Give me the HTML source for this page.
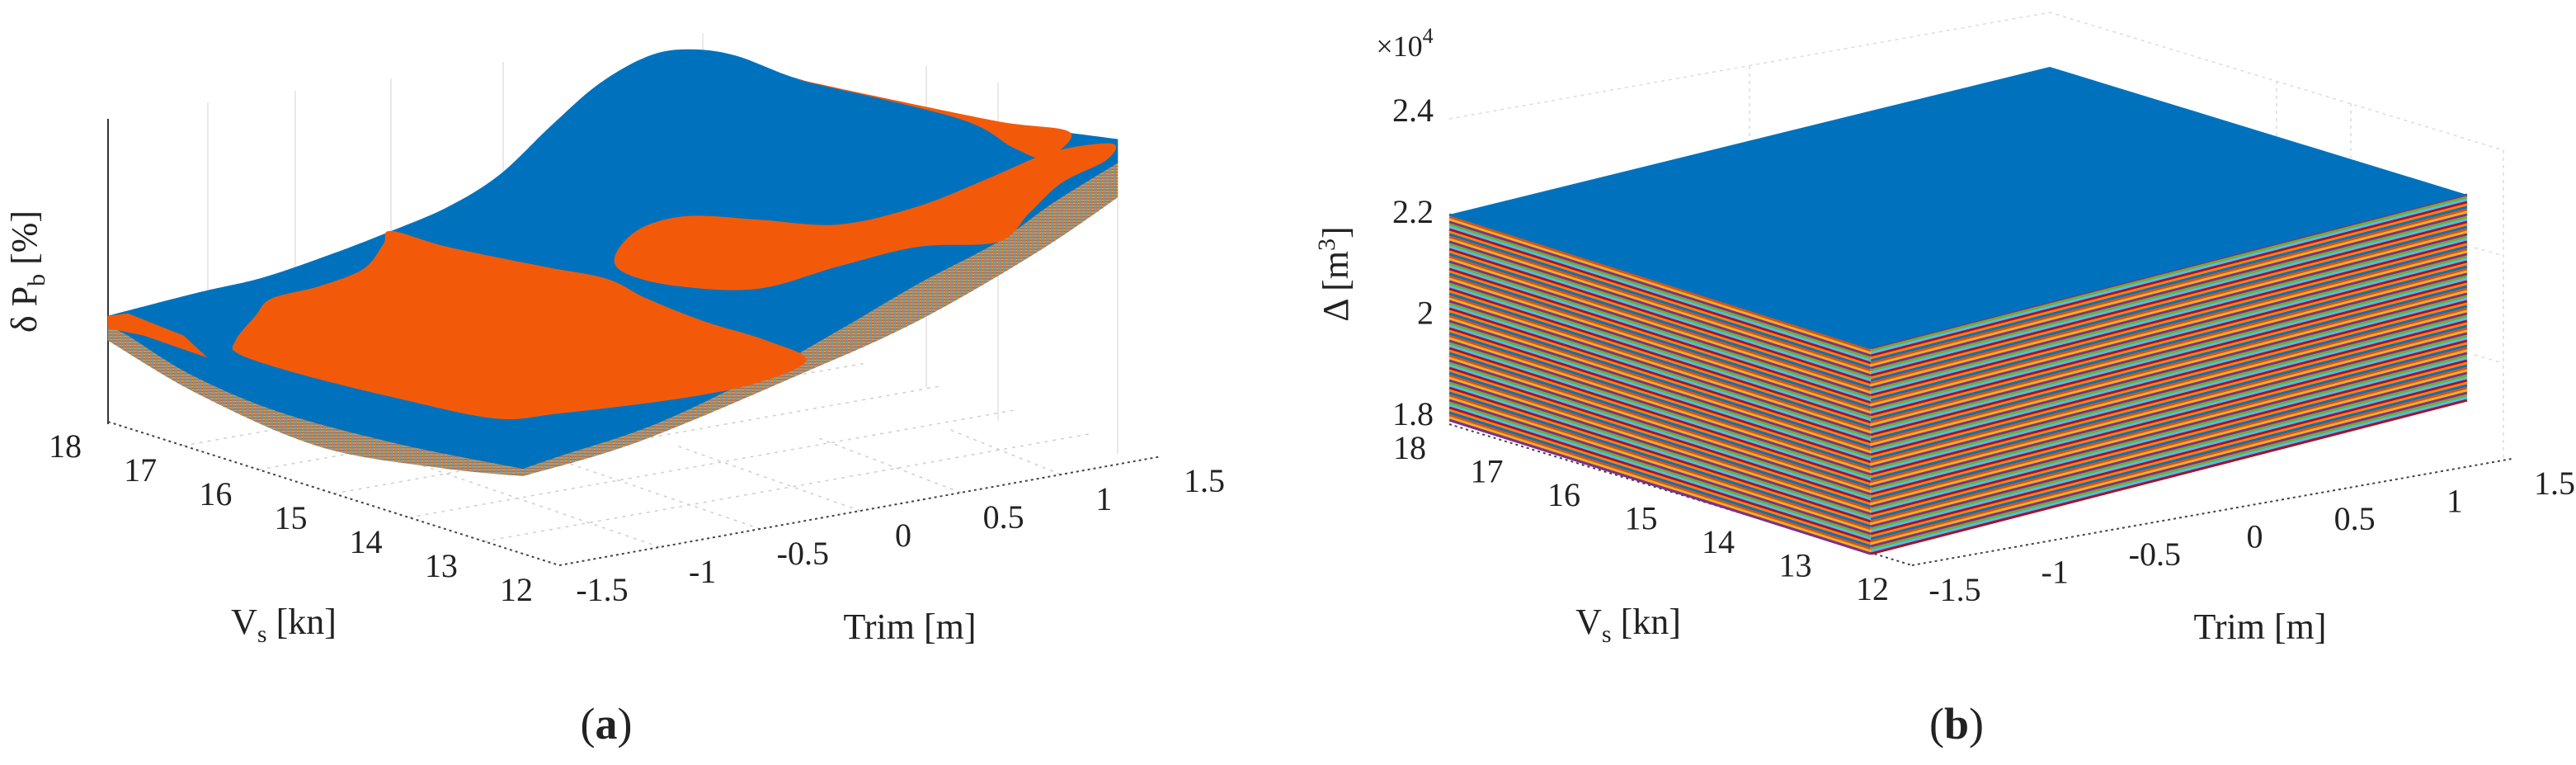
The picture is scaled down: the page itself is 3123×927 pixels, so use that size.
<!DOCTYPE html>
<html><head><meta charset="utf-8">
<style>
html,body{margin:0;padding:0;background:#fff;}
svg{display:block;}
text{font-family:"Liberation Serif",serif;fill:#222;}
</style></head>
<body>
<svg id="fig" width="3123" height="927" viewBox="0 0 3123 927">
<defs>
  <pattern id="mottle" width="6" height="6" patternUnits="userSpaceOnUse">
    <rect width="6" height="6" fill="#a9876f"/>
    <rect x="0" y="0" width="2" height="2" fill="#d95319"/>
    <rect x="3" y="3" width="2" height="2" fill="#4dbeee"/>
    <rect x="3" y="0" width="2" height="2" fill="#7e7e7e"/>
    <rect x="0" y="3" width="2" height="2" fill="#edb120"/>
  </pattern>
</defs>
<rect width="3123" height="927" fill="#fff"/>
<g id="panelA">
  <g stroke="#e2e2e2" stroke-width="1.5" fill="none">
    <line x1="252" y1="124" x2="252" y2="480"/><line x1="358" y1="110" x2="358" y2="430"/>
    <line x1="474" y1="95" x2="474" y2="380"/><line x1="610" y1="75" x2="610" y2="340"/>
    <line x1="852" y1="40" x2="852" y2="70"/><line x1="1123" y1="80" x2="1123" y2="470"/>
    <line x1="1210" y1="100" x2="1210" y2="510"/><line x1="1355" y1="168" x2="1355" y2="550"/>
  </g>
  <g stroke="#cfcfcf" stroke-width="1.5" stroke-dasharray="4 6" fill="none">
    <line x1="222" y1="540" x2="960" y2="410"/><line x1="314" y1="569" x2="1050" y2="440"/>
    <line x1="405" y1="598" x2="1140" y2="468"/><line x1="496" y1="627" x2="1230" y2="497"/>
    <line x1="587" y1="656" x2="1320" y2="526"/>
    <line x1="800" y1="663" x2="500" y2="560"/><line x1="922" y1="641" x2="650" y2="548"/>
    <line x1="1043" y1="619" x2="820" y2="540"/><line x1="1165" y1="597" x2="990" y2="530"/>
    <line x1="1286" y1="575" x2="1150" y2="520"/>
  </g>
  <line x1="131" y1="144" x2="131" y2="514" stroke="#333" stroke-width="2"/>
  <g id="axesA" stroke="#444" stroke-width="2" stroke-dasharray="3 4" fill="none"></g>
  <g id="surfA" transform="scale(0.968 0.598)"></g>
  <text x="44" y="329" font-size="44" text-anchor="middle" transform="rotate(-90 44 329)">δ P<tspan font-size="30" dy="10">b</tspan><tspan dy="-10"> [%]</tspan></text>
  <text x="344" y="768" font-size="44" text-anchor="middle">V<tspan font-size="30" dy="10">s</tspan><tspan dy="-10"> [kn]</tspan></text>
  <text x="1103" y="774" font-size="44" text-anchor="middle">Trim [m]</text>
  <text x="735" y="895" font-size="54" text-anchor="middle">(<tspan font-weight="bold">a</tspan>)</text>
</g>

<g id="panelB">
  <g stroke="#dcdcdc" stroke-width="1.5" stroke-dasharray="4 5" fill="none">
    <polyline points="1757,144 2485,15 3035,182 3035,556"/>
    <line x1="2121" y1="80" x2="2121" y2="300"/><line x1="2760" y1="98" x2="2760" y2="240"/>
    <line x1="2850" y1="125" x2="2850" y2="230"/>
    <line x1="3000" y1="300" x2="3035" y2="310"/><line x1="3000" y1="430" x2="3035" y2="440"/>
  </g>
  <g id="axesB" stroke="#444" stroke-width="2" stroke-dasharray="3 4" fill="none"></g>
  <g id="stripes"></g>
  <polygon fill="#0072bd" points="1757,260 2485,81 2991,236 2268,422"/>
  <g id="zTicksB"></g>
  <text x="1703" y="68" font-size="36" text-anchor="middle">×10<tspan font-size="26" dy="-16">4</tspan></text>
  <text x="1634" y="332" font-size="44" text-anchor="middle" transform="rotate(-90 1634 332)">Δ [m<tspan font-size="30" dy="-16">3</tspan><tspan dy="16">]</tspan></text>
  <text x="1974" y="768" font-size="44" text-anchor="middle">V<tspan font-size="30" dy="10">s</tspan><tspan dy="-10"> [kn]</tspan></text>
  <text x="2740" y="774" font-size="44" text-anchor="middle">Trim [m]</text>
  <text x="2372" y="895" font-size="54" text-anchor="middle">(<tspan font-weight="bold">b</tspan>)</text>
</g>
</svg>
<script>
const vsTicks = [18, 17, 16, 15, 14, 13, 12];
const trimTicks = [-1.5, -1, -0.5, 0, 0.5, 1, 1.5];
const zTicksB = [1.8, 2, 2.2, 2.4];
const zTickLabelsB = ["1.8", "2", "2.2", "2.4"];
const stripeColors = ["#0072bd", "#d95319", "#edb120", "#7e2f8e", "#77ac30", "#4dbeee", "#a2142f", "#ff7f0e"];

const NS = "http://www.w3.org/2000/svg";
function mk(tag, attrs, parent, txt){
  const e = document.createElementNS(NS, tag);
  for (const k in attrs) e.setAttribute(k, attrs[k]);
  if (txt !== undefined) e.textContent = txt;
  parent.appendChild(e);
  return e;
}
function lerp(a, b, t){ return [a[0] + (b[0]-a[0])*t, a[1] + (b[1]-a[1])*t]; }
function vsPos(v, A, B){ return lerp(A, B, (18 - v) / 6); }
function trimPos(v, B, C){ return lerp(B, C, (v + 1.5) / 3); }

function curve(pts){
  let d = "";
  for (let i = 0; i < pts.length - 1; i++){
    const p0 = pts[Math.max(0, i-1)], p1 = pts[i], p2 = pts[i+1], p3 = pts[Math.min(pts.length-1, i+2)];
    const c1 = [p1[0] + (p2[0]-p0[0])/6, p1[1] + (p2[1]-p0[1])/6];
    const c2 = [p2[0] - (p3[0]-p1[0])/6, p2[1] - (p3[1]-p1[1])/6];
    d += " C" + c1[0] + "," + c1[1] + " " + c2[0] + "," + c2[1] + " " + p2[0] + "," + p2[1];
  }
  return d;
}
function closedCurve(pts){
  const n = pts.length;
  let d = "M" + pts[0][0] + "," + pts[0][1];
  for (let i = 0; i < n; i++){
    const p0 = pts[(i-1+n)%n], p1 = pts[i], p2 = pts[(i+1)%n], p3 = pts[(i+2)%n];
    const c1 = [p1[0] + (p2[0]-p0[0])/6, p1[1] + (p2[1]-p0[1])/6];
    const c2 = [p2[0] - (p3[0]-p1[0])/6, p2[1] - (p3[1]-p1[1])/6];
    d += " C" + c1[0] + "," + c1[1] + " " + c2[0] + "," + c2[1] + " " + p2[0] + "," + p2[1];
  }
  return d + "Z";
}

const sA = document.getElementById("surfA");
const backEdge = [[135,640],[250,592],[330,562],[420,512],[490,468],[560,420],[625,355],[690,255],[750,170],[810,115],[860,100],[920,112],[1000,160],[1100,198],[1250,248],[1400,282]];
const frontLeft = [[655,950],[500,900],[350,835],[240,760],[160,680],[135,662]];
const frontRight = [[1400,330],[1320,410],[1250,490],[1150,575],[1050,670],[950,760],[820,860],[700,925],[655,950]];
const skirtPath = "M135,640 L135,690" + curve([[135,690],[250,800],[400,905],[550,948],[655,965]]) + curve([[655,965],[800,895],[1000,760],[1150,650],[1300,510],[1400,400]]) + " L1400,290 Z";
const sk = mk("path", {d:skirtPath, fill:"url(#mottle)"}, sA);


const topPath = "M135,640" + curve(backEdge) + " L1400,330" + curve(frontRight) + curve(frontLeft) + " Z";
const tp = mk("path", {d:topPath, fill:"#0072bd"}, sA);


const orangeRegions = [
  [[490,468],[560,500],[680,540],[760,565],[810,605],[880,650],[960,690],[1010,730],[950,775],[850,808],[700,838],[620,848],[500,808],[380,760],[300,718],[295,690],[320,640],[340,605],[400,580],[455,545],[480,495]],
  [[770,520],[800,465],[860,438],[950,445],[1050,455],[1150,418],[1240,360],[1300,318],[1345,298],[1395,292],[1385,325],[1330,370],[1290,430],[1250,490],[1150,500],[1050,540],[950,585],[850,580],[785,555]],
  [[1000,162],[1100,196],[1250,246],[1340,268],[1310,320],[1270,300],[1200,240]]
];
orangeRegions.forEach((r, i) => {
  const p = mk("path", {d:closedCurve(r), fill:"#f25a0a"}, sA);
  
  
});
const os = mk("polygon", {points:"135,640 160,635 230,680 260,725 180,680 135,665", fill:"#f25a0a"}, sA);



const svg = document.getElementById("fig");
function drawAxes(groupId, A, B, C, vsOff, trOff, tag){
  const g = document.getElementById(groupId);
  const l1 = mk("line", {x1:A[0], y1:A[1], x2:B[0], y2:B[1]}, g);
  
  
  const l2 = mk("line", {x1:B[0], y1:B[1], x2:C[0], y2:C[1]}, g);
  
  
  vsTicks.forEach(v => {
    const p = vsPos(v, A, B);
    const t = mk("text", {x:p[0]+vsOff[0], y:p[1]+vsOff[1], "font-size":40, "text-anchor":"middle", "dominant-baseline":"middle"}, svg, String(v));
    
    
  });
  trimTicks.forEach(v => {
    const p = trimPos(v, B, C);
    const t = mk("text", {x:p[0]+trOff[0], y:p[1]+trOff[1], "font-size":40, "text-anchor":"middle", "dominant-baseline":"middle"}, svg, String(v));
    
    
  });
}
drawAxes("axesA", [131,511], [678,685], [1408,553], [-52,34], [52,34], "a");
drawAxes("axesB", [1757,514], [2318,685], [3045,556], [-48,33], [52,34], "b");

const zg = document.getElementById("zTicksB");
function zY(v){ return 506 + (v - 1.8) / 0.6 * (138 - 506); }
zTicksB.forEach((v, i) => {
  const y = zY(v);
  const t = mk("text", {x:1738, y:y, "font-size":40, "text-anchor":"end", "dominant-baseline":"middle"}, zg, zTickLabelsB[i]);
  
  
});

const sg = document.getElementById("stripes");
for (let k = 0; k < 84; k++){
  const t = k * 3;
  const c = stripeColors[k % stripeColors.length];
  const c2 = stripeColors[(k + 3) % stripeColors.length];
  const s1 = mk("line", {x1:1757, y1:260+t, x2:2268, y2:422+t, stroke:c, "stroke-width":3.2}, sg);
  
  
  const s2 = mk("line", {x1:2268, y1:422+t, x2:2991, y2:236+t, stroke:c2, "stroke-width":3.2}, sg);
  
  
}
</script>
</body></html>
